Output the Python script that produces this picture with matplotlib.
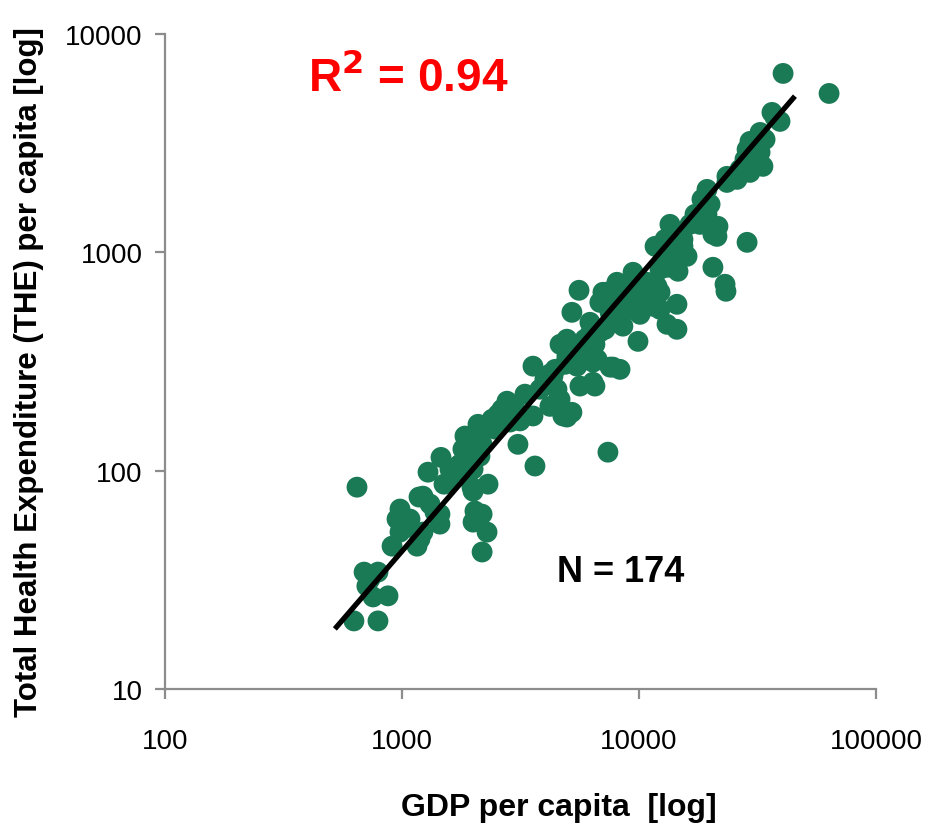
import numpy as np
import matplotlib
matplotlib.use("Agg")
import matplotlib.pyplot as plt
from matplotlib.ticker import FixedLocator, NullLocator, FixedFormatter

plt.rcParams['font.family'] = ['Liberation Sans', 'DejaVu Sans']

gdp = [627, 646, 692, 711, 755, 792, 792, 873, 908, 953, 981, 981, 1060, 1157, 1180,
       1191, 1226, 1226, 1288, 1378, 1446, 1446, 1461, 1504, 1723, 1757, 1808, 1844,
       1880, 1974, 1995, 1995, 1995, 1995, 2032, 2093, 2133, 2178, 2178, 2178, 2285,
       2307, 2399, 2642, 2773, 2858, 3085, 3148, 3303, 3571, 3571, 3640, 4209, 4209,
       4335, 4508, 4645, 4645, 4775, 4966, 4966, 4966, 5212, 5212, 5470, 5585, 5636,
       5636, 6209, 6209, 6397, 6397, 6518, 6653, 6839, 6839, 7047, 7396, 7551, 7551,
       7551, 7762, 7762, 8075, 8318, 8551, 8892, 9441, 9441, 9903, 9903, 10400, 10800,
       11350, 11460, 11690, 11910, 12270, 12270, 13130, 13130, 13260, 13260, 13510,
       14460, 14460, 14610, 15330, 15330, 15330, 15950, 16410, 18440, 19360, 19360,
       20510, 20510, 21330, 21540, 23070, 23280, 23500, 23500, 24930, 28580, 28580,
       29400, 29400, 31480, 32420, 32420, 33340, 36400, 39360, 40550, 63390,
       1594, 1674, 1898, 2239, 2466, 2541, 2999, 3820, 4009, 4426, 4875, 5370, 5916,
       6209, 6518, 7194, 7925, 8318, 8730, 9162, 10100, 10600, 11130, 12270, 12880,
       14190, 17230, 18080, 19950, 26680, 28000, 30850, 34040, 37500, 25930, 1313,
       1081, 733]
the = [20.5, 84.0, 34.3, 29.6, 26.4, 34.3, 20.5, 26.7, 45.1, 60.0, 66.7, 52.3, 55.1,
       45.1, 75.7, 48.6, 52.3, 76.4, 98.4, 64.6, 63.2, 56.9, 115, 86.7, 105, 107, 125.5,
       144, 116.5, 84.0, 139, 101.6, 80.5, 58.1, 65.3, 163, 116.5, 132, 63.2, 42.4, 52.3,
       86.7, 172, 191, 208, 167, 132, 169, 224, 301, 178, 105, 277, 197, 271, 236, 379,
       212, 178, 400, 334, 176, 531, 185, 301, 670, 372, 244, 478, 349, 314, 254, 244,
       324, 590, 431, 656, 121.5, 663, 531, 298, 548, 298, 729, 291, 459, 629, 810, 656,
       629, 391, 590, 729, 714, 566, 1065, 699, 656, 548, 1000, 468, 929, 854, 1343, 578,
       444, 819, 1146, 1065, 979, 959, 1343, 1749, 1942, 1493, 1208, 854, 1183, 1315,
       714, 663, 2228, 2090, 2228, 2958, 1111, 3221, 2323, 2667, 3540, 2871, 2476, 4373,
       3978, 6597, 5341,
       101.6, 93.3, 128, 155, 155, 181, 191, 236, 262, 291, 307, 341, 400, 421, 379, 444,
       494, 610, 677, 548, 520, 643, 610, 836, 1146, 1208, 1493, 1343, 1660, 2399, 2667,
       2958, 3289, 4150, 2158, 70.3, 60.0, 31.9]

# fitted trend line shown on the chart (log10 THE = intercept + slope * log10 GDP)
fit_slope = 1.257
fit_intercept = -2.140
fit_range = [521, 45500]

x_ticks = [100, 1000, 10000, 100000]
y_ticks = [10, 100, 1000, 10000]
x_labels = ['100', '1000', '10000', '100000']
y_labels = ['10', '100', '1000', '10000']

gdp = np.array(gdp, float)
the = np.array(the, float)

fig = plt.figure(figsize=(9.4, 8.29), dpi=100)
ax = fig.add_axes([0.1755, 0.1677, 0.7564, 0.7901])
ax.set_xscale('log')
ax.set_yscale('log')
ax.set_xlim(100, 100000)
ax.set_ylim(10, 10000)

ax.scatter(gdp, the, s=225, color='#1a7a56', edgecolors='none', zorder=2)

fx = np.array(fit_range, float)
fy = 10 ** (fit_intercept + fit_slope * np.log10(fx))
ax.plot(fx, fy, color='black', lw=3.8, solid_capstyle='butt', zorder=3)

ax.xaxis.set_major_locator(FixedLocator(x_ticks))
ax.yaxis.set_major_locator(FixedLocator(y_ticks))
ax.xaxis.set_major_formatter(FixedFormatter(x_labels))
ax.yaxis.set_major_formatter(FixedFormatter(y_labels))
ax.xaxis.set_minor_locator(NullLocator())
ax.yaxis.set_minor_locator(NullLocator())

for side in ['top', 'right']:
    ax.spines[side].set_visible(False)
for side in ['left', 'bottom']:
    ax.spines[side].set_color('#8c8c8c')
    ax.spines[side].set_linewidth(1.6)
ax.tick_params(axis='both', which='major', direction='out', length=7, width=1.6,
               color='#8c8c8c', labelsize=20, labelcolor='black')
ax.tick_params(axis='x', pad=21)
ax.tick_params(axis='y', pad=9)

ax.set_xlabel('GDP per capita  [log]', fontsize=23, fontweight='bold')
ax.set_ylabel('Total Health Expenditure (THE) per capita [log]', fontsize=22.5,
              fontweight='bold')
ax.xaxis.set_label_coords(0.554, -0.157)
ax.yaxis.set_label_coords(-0.170, 0.4855)

ax.text(0.2005, 0.935, r'R$^{\mathbf{2}}$ = 0.94', transform=ax.transAxes, color='#ff0000',
        fontsize=33, fontweight='bold', va='center', ha='left')
ax.text(0.551, 0.18, 'N = 174', transform=ax.transAxes, color='black',
        fontsize=26, fontweight='bold', va='center', ha='left')

fig.savefig('out.png', dpi=100)
